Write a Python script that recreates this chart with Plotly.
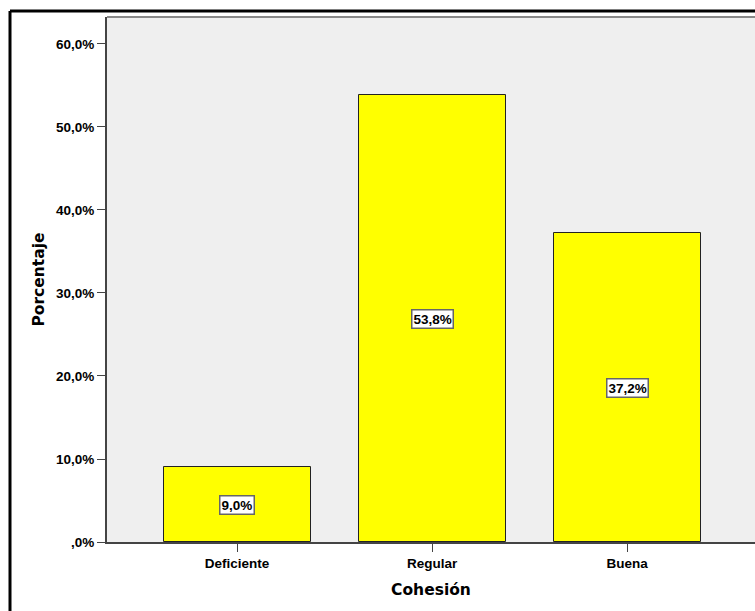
import plotly.graph_objects as go

# Data
categories = ["Deficiente", "Regular", "Buena"]
percentages = [9.0, 53.8, 37.2]
value_labels = ["9,0%", "53,8%", "37,2%"]
ytick_values = [0, 10, 20, 30, 40, 50, 60]
ytick_labels = [",0%", "10,0%", "20,0%", "30,0%", "40,0%", "50,0%", "60,0%"]

W, H = 755, 611
ML, MR, MT, MB = 107, 0, 17, 69
pw, ph = W - ML - MR, H - MT - MB

TICK_FONT = "Liberation Sans, Arial"
TITLE_FONT = "DejaVu Sans"

fig = go.Figure()
fig.add_trace(go.Bar(
    x=list(range(len(categories))),
    y=percentages,
    width=0.754,
    marker=dict(color="#ffff00", line=dict(color="#222222", width=1)),
    hoverinfo="skip",
))

# value boxes centred inside each bar
for i, (v, lab) in enumerate(zip(percentages, value_labels)):
    fig.add_annotation(
        x=i, y=v / 2, text=f"<b>{lab}</b>", showarrow=False,
        font=dict(family=TICK_FONT, size=13.5, color="#000000"),
        bgcolor="#ffffff", bordercolor="#666666", borderwidth=1.5, borderpad=1,
    )

# outer frame (left and top edges)
fx = (10 - ML) / pw
fy = (H - MB - 11) / ph
fig.add_shape(type="line", xref="paper", yref="paper", x0=fx, x1=fx, y0=fy, y1=-0.2,
              line=dict(color="#000000", width=3))
fig.add_shape(type="line", xref="paper", yref="paper", x0=fx, x1=1.05, y0=fy, y1=fy,
              line=dict(color="#000000", width=3))

fig.update_layout(
    width=W, height=H,
    margin=dict(l=ML, r=MR, t=MT, b=MB, pad=0),
    paper_bgcolor="#ffffff",
    plot_bgcolor="#efefef",
    showlegend=False,
    bargap=0,
    font=dict(family=TICK_FONT, size=13.5, color="#000000"),
)
fig.update_xaxes(
    range=[-0.667, 2.656],
    tickvals=list(range(len(categories))),
    ticktext=[f"<b>{c}</b>" for c in categories],
    tickfont=dict(family=TICK_FONT, size=13.5),
    ticks="outside", ticklen=8, tickcolor="#444444", tickwidth=1,
    showline=True, linecolor="#444444", linewidth=2,
    showgrid=False, zeroline=False,
    title=dict(text="<b>Cohesión</b>", font=dict(family=TITLE_FONT, size=15.5), standoff=14),
)
fig.update_yaxes(
    range=[0, 63.25],
    tickvals=ytick_values,
    ticktext=[f"<b>{t}</b>" for t in ytick_labels],
    tickfont=dict(family=TICK_FONT, size=13.5),
    ticks="outside", ticklen=8, tickcolor="#444444", tickwidth=1,
    showline=True, linecolor="#444444", linewidth=2, mirror=False,
    showgrid=False, zeroline=False,
    title=dict(text="<b>Porcentaje</b>", font=dict(family=TITLE_FONT, size=15.5), standoff=8),
)
# top edge of plotting area
fig.add_shape(type="line", xref="paper", yref="paper", x0=0, x1=1, y0=1, y1=1,
              line=dict(color="#888888", width=2))

fig.write_html("out.html")
